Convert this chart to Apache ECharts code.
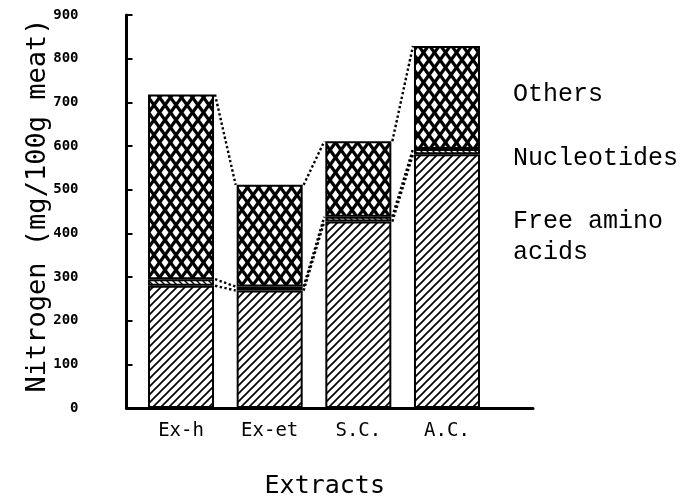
<!DOCTYPE html>
<html>
<head>
<meta charset="utf-8">
<script src="https://cdn.jsdelivr.net/npm/echarts@6/dist/echarts.min.js"></script>
<style>
html,body{margin:0;padding:0;background:#fff;}
#chart{width:683px;height:496px;}
</style>
</head>
<body>
<div id="chart"></div>
<script>
// ---- data ----
const categories = ['Ex-h', 'Ex-et', 'S.C.', 'A.C.'];
const freeAminoAcids = [280, 269, 427, 581];
const nucleotides = [15, 9, 11, 12];
const others = [423, 233, 173, 236];
const yMin = 0, yMax = 900, yStep = 100;
const seriesNames = ['Free amino acids', 'Nucleotides', 'Others'];
const legendLabels = ['Others', 'Nucleotides', 'Free amino\nacids'];

// ---- styles ----
const BAR_W = 66;
const monoSans = 'DejaVu Sans Mono';
const monoSerif = 'Liberation Mono';

function makeCanvas(w, h) {
  const c = document.createElement('canvas');
  c.width = w; c.height = h;
  const ctx = c.getContext('2d');
  ctx.fillStyle = '#fff';
  ctx.fillRect(0, 0, w, h);
  ctx.strokeStyle = '#000';
  return [c, ctx];
}
function diagTile(size, lw, dir) {
  const [c, ctx] = makeCanvas(size, size);
  ctx.lineWidth = lw;
  for (let k = -2; k <= 2; k++) {
    const dx = k * size;
    ctx.beginPath();
    if (dir > 0) { ctx.moveTo(dx - size, 2 * size); ctx.lineTo(dx + 2 * size, -size); }
    else { ctx.moveTo(dx - size, -size); ctx.lineTo(dx + 2 * size, 2 * size); }
    ctx.stroke();
  }
  return c;
}
function crossTile(W, H, n, lw) {
  const w = W / n;
  const [c, ctx] = makeCanvas(W, H);
  ctx.lineWidth = lw;
  for (let k = -3 * n; k <= 3 * n; k++) {
    const x0 = k * w;
    ctx.beginPath();
    ctx.moveTo(x0 - 2 * W, -2 * H); ctx.lineTo(x0 + 3 * W, 3 * H);
    ctx.stroke();
    ctx.beginPath();
    ctx.moveTo(x0 + 2 * W, -2 * H); ctx.lineTo(x0 - 3 * W, 3 * H);
    ctx.stroke();
  }
  return c;
}
const hatchFAA = { image: diagTile(8, 1.7, 1), repeat: 'repeat' };
const hatchNuc = { image: diagTile(6, 1.4, -1), repeat: 'repeat' };
const hatchOth = { image: crossTile(33, 45, 3, 3.2), repeat: 'repeat' };

// cumulative levels for connecting dotted lines
const level1 = freeAminoAcids.slice();
const level2 = level1.map((v, i) => v + nucleotides[i]);
const level3 = level2.map((v, i) => v + others[i]);
const connectors = [];
[level1, level2, level3].forEach(lv => {
  for (let i = 0; i < categories.length - 1; i++) connectors.push([i, lv[i], lv[i + 1]]);
});

const chart = echarts.init(document.getElementById('chart'));
const barStyle = (pat) => ({ color: pat, borderColor: '#000', borderWidth: 2 });

chart.setOption({
  backgroundColor: '#fff',
  animation: false,
  grid: [
    { left: 136.7, top: 15, width: 354.6, height: 393, outerBoundsMode: 'none', containLabel: false },
    { left: 126.5, top: 15, width: 406.5, height: 393, outerBoundsMode: 'none', containLabel: false }
  ],
  xAxis: [
    {
      type: 'category', gridIndex: 0, data: categories,
      axisLine: { show: false }, axisTick: { show: false },
      axisLabel: { margin: 14, color: '#000', fontFamily: monoSans, fontSize: 19 }
    },
    {
      type: 'value', gridIndex: 1, min: 0, max: 1,
      axisLine: { show: true, lineStyle: { color: '#000', width: 3 } },
      axisTick: { show: false }, axisLabel: { show: false }, splitLine: { show: false },
      name: 'Extracts', nameLocation: 'middle', nameGap: 66,
      nameTextStyle: { color: '#000', fontFamily: monoSans, fontSize: 25, padding: [0, 10, 0, 0] }
    }
  ],
  yAxis: [
    { type: 'value', gridIndex: 0, min: yMin, max: yMax, interval: yStep, show: false },
    {
      type: 'value', gridIndex: 1, min: yMin, max: yMax, interval: yStep,
      axisLine: { show: true, lineStyle: { color: '#000', width: 3 } },
      axisTick: { show: true, inside: true, length: 6, lineStyle: { color: '#000', width: 2 } },
      splitLine: { show: false },
      axisLabel: { margin: 48, color: '#000', fontFamily: monoSans, fontWeight: 'bold', fontSize: 14 },
      name: 'Nitrogen (mg/100g meat)', nameLocation: 'middle', nameGap: 75, nameRotate: 90,
      nameMoveOverlap: false,
      nameTextStyle: { color: '#000', fontFamily: monoSans, fontSize: 27, padding: [0, 0, 0, 12] }
    }
  ],
  series: [
    { name: seriesNames[0], type: 'bar', stack: 'n', barWidth: BAR_W, xAxisIndex: 0, yAxisIndex: 0,
      data: freeAminoAcids, itemStyle: barStyle(hatchFAA) },
    { name: seriesNames[1], type: 'bar', stack: 'n', barWidth: BAR_W, xAxisIndex: 0, yAxisIndex: 0,
      data: nucleotides, itemStyle: barStyle(hatchNuc) },
    { name: seriesNames[2], type: 'bar', stack: 'n', barWidth: BAR_W, xAxisIndex: 0, yAxisIndex: 0,
      data: others, itemStyle: barStyle(hatchOth) },
    {
      type: 'custom', xAxisIndex: 0, yAxisIndex: 0, data: connectors,
      encode: { x: 0, y: [1, 2] }, z: 1,
      renderItem: function (params, api) {
        const i = api.value(0);
        const p1 = api.coord([i, api.value(1)]);
        const p2 = api.coord([i + 1, api.value(2)]);
        return {
          type: 'line',
          shape: { x1: p1[0] + BAR_W / 2 + 1, y1: p1[1], x2: p2[0] - BAR_W / 2 - 1, y2: p2[1] },
          style: { stroke: '#000', lineWidth: 2.4, lineDash: [2.4, 2.4] }
        };
      }
    }
  ],
  graphic: [
    { type: 'text', left: 513, top: 82, style: { text: legendLabels[0], font: '25px "' + monoSerif + '"', fill: '#000' } },
    { type: 'text', left: 513, top: 146, style: { text: legendLabels[1], font: '25px "' + monoSerif + '"', fill: '#000' } },
    { type: 'text', left: 513, top: 206, style: { text: legendLabels[2], font: '25px "' + monoSerif + '"', fill: '#000', lineHeight: 31 } }
  ]
});
</script>
</body>
</html>
